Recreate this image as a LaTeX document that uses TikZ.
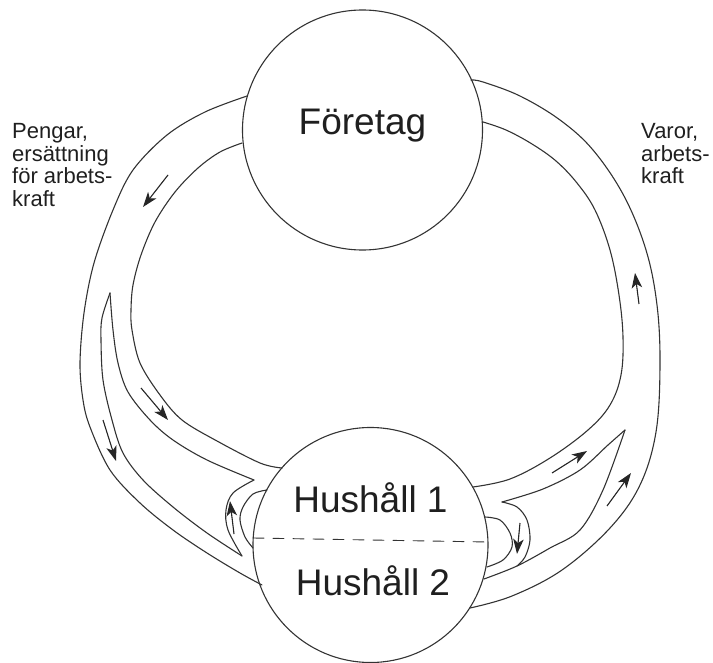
\documentclass[tikz,border=0pt]{standalone}
\usepackage{fontspec}
\setmainfont{Liberation Sans}
\usetikzlibrary{arrows.meta}
\begin{document}
\begin{tikzpicture}[x=1pt,y=-1pt,
  ln/.style={line width=1.1pt, draw=black!80, line cap=round, line join=round},
  flow/.style={line width=1.1pt, draw=black!85, fill=black!85, -{Stealth[length=15pt,width=10.5pt,inset=4pt]}},
  big/.style={font=\fontsize{37}{44}\selectfont, text=black!88, inner sep=0},
  lab/.style={font=\fontsize{22}{22.7}\selectfont, text=black!88, inner sep=0, align=left, anchor=north west}]
\path[use as bounding box] (0,0) rectangle (713,663);
% circles
\node[circle, ln, draw, minimum size=240pt, inner sep=0] (firm) at (362.5,130) {};
\node[circle, ln, draw, minimum size=235pt, inner sep=0] (hh) at (370.5,545) {};
\node[big, anchor=base] (t1) at (362.5,135) {Företag};
\node[big, anchor=base] (t2) at (370.5,512) {Hushåll 1};
\node[big, anchor=base] (t3) at (373,595) {Hushåll 2};
\node[lab] (l1) at (12,123) {Pengar,\\ersättning\\för arbets-\\kraft};
\node[lab] (l2) at (641,123) {Varor,\\arbets-\\kraft};
% dashed divider
\coordinate (dl) at (253,538);
\coordinate (dr) at (488,542);
\draw[ln, line width=0.9pt, dash pattern=on 11pt off 9pt] (dl) -- (dr);
% left band
\draw[ln] plot[smooth, tension=0.55] coordinates {(247,96) (205,112) (167,135) (133,170) (113,210) (94,263) (84,313) (80,363) (83,400) (90,427) (110,470) (140,503) (173,530) (207,553) (240,573) (262,585)};
\draw[ln] plot[smooth, tension=0.55] coordinates {(242,143) (220,152) (198,168) (175,192) (155,222) (141,255) (133,285) (131,310) (132,330) (140,363) (160,395) (182,420) (217,441) (260,463) (282,468)};
% left island
\draw[ln] plot[smooth, tension=0.55] coordinates {(110,293) (102,318) (101,340) (103,380) (112,420) (123,453) (143,480) (173,507) (207,533) (242,556)};
\draw[ln] plot[smooth, tension=0.55] coordinates {(110,293) (113,330) (118,363) (128,392) (150,420) (173,440) (207,460) (254,480)};
\draw[ln] plot[smooth, tension=0.55] coordinates {(254,480) (233,493) (226,510) (228,530) (242,556)};
\draw[ln] plot[smooth, tension=0.55] coordinates {(267,490) (253,494) (243,507) (240,520) (245,537) (253,548)};
% right band
\draw[ln] plot[smooth, tension=0.6] coordinates {(471,80) (483,82) (520,96) (560,120) (593,150) (624,196) (646,250) (657,305) (660,365) (656,432) (640,485) (610,528) (562,570) (512,596) (470,608)};
\draw[ln] plot[smooth, tension=0.6] coordinates {(483,122) (506,130) (532,144) (556,161) (577,183) (595,210) (610,250) (619,295) (623,337) (621,375) (610,405) (588,430) (550,458) (510,479) (473,487)};
% right island
\draw[ln] plot[smooth, tension=0.55] coordinates {(625,430) (608,445) (580,470) (543,489) (502,502)};
\draw[ln] plot[smooth, tension=0.55] coordinates {(502,502) (517,507) (527,520) (530,540) (525,557) (517,566)};
\draw[ln] plot[smooth, tension=0.55] coordinates {(484,579) (517,566) (550,548) (580,530) (603,490) (625,430)};
\draw[ln] plot[smooth, tension=0.55] coordinates {(485,517) (500,520) (510,533) (512,547) (503,560) (487,567)};
% flow arrows
\coordinate (a1s) at (168,175); \coordinate (a1e) at (143,207);
\coordinate (a2s) at (141,388); \coordinate (a2e) at (168,420);
\coordinate (a3s) at (103,420); \coordinate (a3e) at (116,461);
\coordinate (a4s) at (234,534); \coordinate (a4e) at (230,501);
\coordinate (a5s) at (639,304); \coordinate (a5e) at (635,273);
\coordinate (a6s) at (552,473); \coordinate (a6e) at (587,451);
\coordinate (a7s) at (607,506); \coordinate (a7e) at (631,473);
\coordinate (a8s) at (520,523); \coordinate (a8e) at (517,554);
\foreach \i in {1,...,8} \draw[flow] (a\i s) -- (a\i e);
\end{tikzpicture}
\end{document}
